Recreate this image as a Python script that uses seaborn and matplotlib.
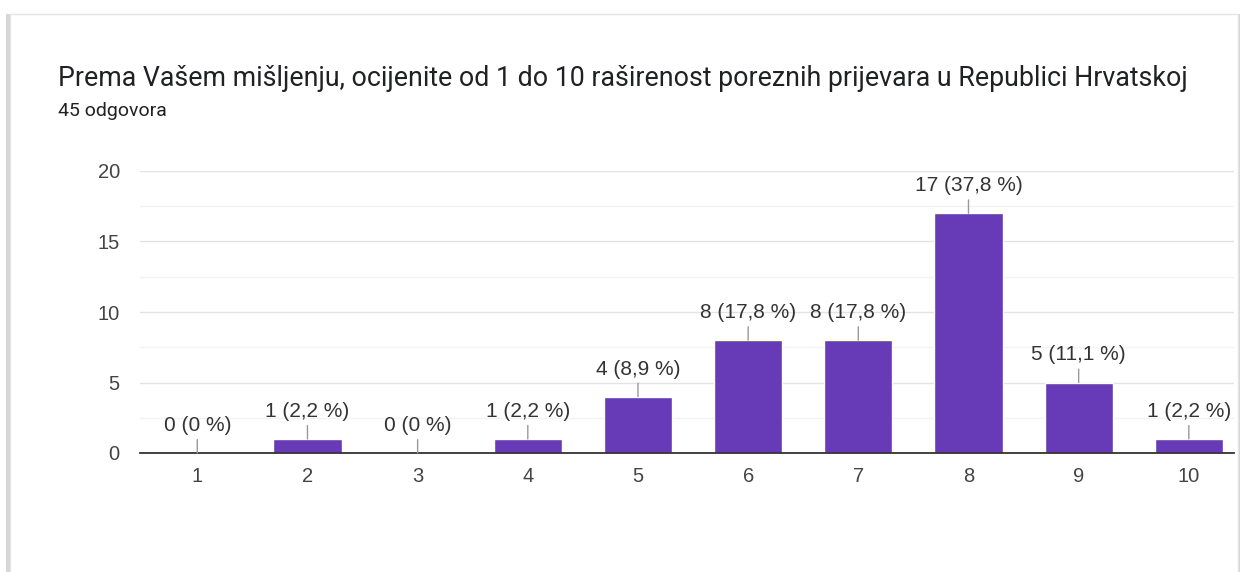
import matplotlib.pyplot as plt
import matplotlib.patches as mpatches
import seaborn as sns
import pandas as pd

# data
ratings = ['1', '2', '3', '4', '5', '6', '7', '8', '9', '10']
counts = [0, 1, 0, 1, 4, 8, 8, 17, 5, 1]
percents = ['0', '2,2', '0', '2,2', '8,9', '17,8', '17,8', '37,8', '11,1', '2,2']
title = "Prema Vašem mišljenju, ocijenite od 1 do 10 raširenost poreznih prijevara u Republici Hrvatskoj"
subtitle = "45 odgovora"

sns.set_theme(style='white')
plt.rcParams['font.family'] = ['Liberation Sans', 'DejaVu Sans']

df = pd.DataFrame({'ocjena': ratings, 'broj': counts})

fig = plt.figure(figsize=(12.44, 5.72), dpi=100)
fig.patch.set_facecolor('white')

# card with a soft shadow, kept behind the axes
shadow = mpatches.Rectangle((6 / 1244, -0.1), 1234 / 1244, (558 + 57) / 572,
                            transform=fig.transFigure, facecolor='#d6d6d6',
                            edgecolor='none', zorder=-2)
card = mpatches.Rectangle((10 / 1244, -0.1), 1228 / 1244, (558 + 57) / 572,
                          transform=fig.transFigure, facecolor='white',
                          edgecolor='#e4e4e4', lw=1, zorder=-1)
fig.patches.extend([shadow, card])

fig.text(58 / 1244, 1 - 78 / 572, title, fontsize=19.3, color='#202124',
         family=['Roboto', 'DejaVu Sans'], va='center', ha='left')
fig.text(58 / 1244, 1 - 111 / 572, subtitle, fontsize=14, color='#202124',
         family=['Roboto', 'DejaVu Sans'], va='center', ha='left')

ax = fig.add_axes([140 / 1244, 1 - 453 / 572, 1094 / 1244, 282 / 572])
ax.set_facecolor('none')
sns.barplot(data=df, x='ocjena', y='broj', color='#673ab7', saturation=1,
            width=0.62, ax=ax, zorder=3)

ax.set_ylim(0, 20)
ax.set_xlim(-0.52, 9.41)
ax.set_yticks([0, 5, 10, 15, 20])
ax.set_yticks([2.5, 7.5, 12.5, 17.5], minor=True)
ax.grid(axis='y', which='major', color='#e3e3e3', lw=1, zorder=0)
ax.grid(axis='y', which='minor', color='#f3f3f3', lw=1, zorder=0)
ax.set_axisbelow(True)
for side in ['top', 'right', 'left']:
    ax.spines[side].set_visible(False)
ax.spines['bottom'].set_color('#333333')
ax.spines['bottom'].set_linewidth(1.3)
ax.spines['bottom'].set_zorder(4)
ax.tick_params(axis='both', which='both', length=0, labelsize=14.5, colors='#444444')
ax.tick_params(axis='x', pad=10)
ax.tick_params(axis='y', pad=14.5)
ax.set_xlabel('')
ax.set_ylabel('')

for i, (c, p) in enumerate(zip(counts, percents)):
    ax.annotate(f'{c} ({p} %)', xy=(i, c), xytext=(0, 13),
                textcoords='offset points', ha='center', va='bottom',
                fontsize=15, color='#333333', zorder=5,
                arrowprops=dict(arrowstyle='-', color='#999999', lw=1,
                                shrinkA=1, shrinkB=0))

fig.savefig('out.png', dpi=100, facecolor='white')
